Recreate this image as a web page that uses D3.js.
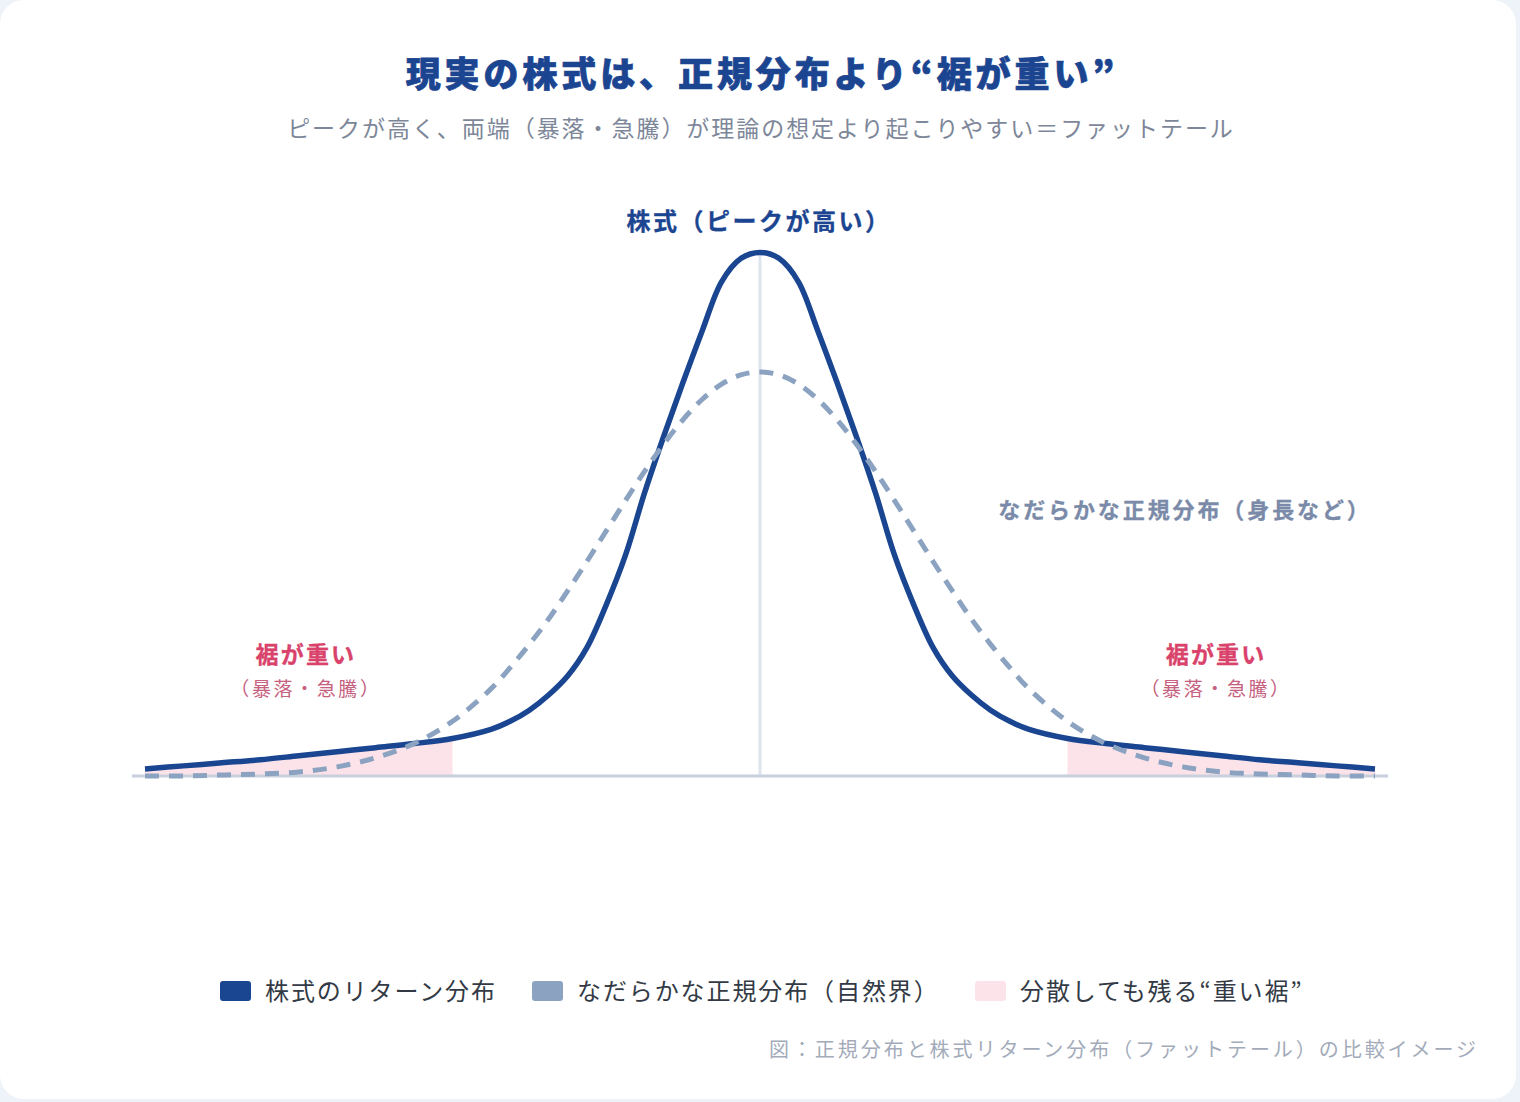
<!DOCTYPE html>
<html>
<head>
<meta charset="utf-8">
<script src="https://cdn.jsdelivr.net/npm/d3@7"></script>
<style>
  html, body { margin: 0; padding: 0; background: #eef3f9; }
  svg { display: block; font-family: "Noto Sans CJK JP", "Noto Sans", sans-serif; }
</style>
</head>
<body>
<div id="chart"></div>
<script>
// x positions (in standard deviations) where the curves were read
var xs = [-4, -3.75, -3.5, -3.25, -3, -2.75, -2.5, -2.25, -2,
  -1.75, -1.625, -1.5, -1.375, -1.25, -1.125, -1, -0.875, -0.75, -0.625, -0.5, -0.375, -0.25, -0.125,
  0,
  0.125, 0.25, 0.375, 0.5, 0.625, 0.75, 0.875, 1, 1.125, 1.25, 1.375, 1.5, 1.625, 1.75,
  2, 2.25, 2.5, 2.75, 3, 3.25, 3.5, 3.75, 4];

// stock return distribution (peaked, fat tails)
var stockValues = [0.007, 0.010, 0.013, 0.016, 0.020, 0.024, 0.028, 0.032, 0.037,
  0.046, 0.054, 0.065, 0.080, 0.099, 0.127, 0.169, 0.218, 0.280, 0.336, 0.389, 0.440, 0.488, 0.511,
  0.517,
  0.511, 0.488, 0.440, 0.389, 0.336, 0.280, 0.218, 0.169, 0.127, 0.099, 0.080, 0.065, 0.054, 0.046,
  0.037, 0.032, 0.028, 0.024, 0.020, 0.016, 0.013, 0.010, 0.007];

// smooth normal distribution (dashed)
var normalValues = [0.000, 0.000, 0.001, 0.002, 0.004, 0.009, 0.018, 0.032, 0.054,
  0.086, 0.107, 0.130, 0.155, 0.183, 0.212, 0.242, 0.272, 0.301, 0.328, 0.352, 0.372, 0.387, 0.396,
  0.399,
  0.396, 0.387, 0.372, 0.352, 0.328, 0.301, 0.272, 0.242, 0.212, 0.183, 0.155, 0.130, 0.107, 0.086,
  0.054, 0.032, 0.018, 0.009, 0.004, 0.002, 0.001, 0.000, 0.000];

// where the heavy tails start
var tailCut = 2;

var titleText = "現実の株式は、正規分布より“裾が重い”";
var subtitleText = "ピークが高く、両端（暴落・急騰）が理論の想定より起こりやすい＝ファットテール";
var legendLabels = ["株式のリターン分布", "なだらかな正規分布（自然界）", "分散しても残る“重い裾”"];
var captionText = "図：正規分布と株式リターン分布（ファットテール）の比較イメージ";

var svgWidth = 1520;
var svgHeight = 1102;

var stockColor = "#1a4590";
var normalColor = "#8ba3c1";
var tailColor = "#fce3e9";

var svg = d3.select("#chart")
  .append("svg")
  .attr("width", svgWidth)
  .attr("height", svgHeight);

// background + card
svg.append("rect")
  .attr("width", svgWidth)
  .attr("height", svgHeight)
  .attr("fill", "#eef3f9");

svg.append("rect")
  .attr("x", 0)
  .attr("y", 0)
  .attr("width", 1516)
  .attr("height", 1099)
  .attr("rx", 24)
  .attr("fill", "#ffffff");

var data = xs.map(function(x, i) {
  return { x: x, stock: stockValues[i], normal: normalValues[i] };
});

// scales
var xScale = d3.scaleLinear()
  .domain([-4, 4])
  .range([145, 1375]);

var yScale = d3.scaleLinear()
  .domain([0, 0.55])
  .range([776, 219]);

var smooth = d3.curveCatmullRom.alpha(0.5);

// heavy tail areas
var tailArea = d3.area()
  .x(d => xScale(d.x))
  .y0(yScale(0))
  .y1(d => yScale(d.stock))
  .curve(smooth);

svg.append("path")
  .datum(data.filter(d => d.x <= -tailCut))
  .attr("d", tailArea)
  .attr("fill", tailColor);

svg.append("path")
  .datum(data.filter(d => d.x >= tailCut))
  .attr("d", tailArea)
  .attr("fill", tailColor);

// center line
svg.append("line")
  .attr("x1", xScale(0))
  .attr("x2", xScale(0))
  .attr("y1", yScale(d3.max(stockValues)))
  .attr("y2", yScale(0))
  .attr("stroke", "#dfe5ef")
  .attr("stroke-width", 3);

// baseline
svg.append("line")
  .attr("x1", xScale.range()[0] - 13)
  .attr("x2", xScale.range()[1] + 13)
  .attr("y1", yScale(0))
  .attr("y2", yScale(0))
  .attr("stroke", "#c7d0dc")
  .attr("stroke-width", 3);

// stock curve
var stockLine = d3.line()
  .x(d => xScale(d.x))
  .y(d => yScale(d.stock))
  .curve(smooth);

svg.append("path")
  .datum(data)
  .attr("d", stockLine)
  .attr("fill", "none")
  .attr("stroke", stockColor)
  .attr("stroke-width", 5.5)
  .attr("stroke-linejoin", "round");

// normal curve
var normalLine = d3.line()
  .x(d => xScale(d.x))
  .y(d => yScale(d.normal))
  .curve(smooth);

svg.append("path")
  .datum(data)
  .attr("d", normalLine)
  .attr("fill", "none")
  .attr("stroke", normalColor)
  .attr("stroke-width", 5)
  .attr("stroke-dasharray", "14 10");

// title + subtitle
svg.append("text")
  .attr("x", 762)
  .attr("y", 87)
  .attr("text-anchor", "middle")
  .attr("font-size", 35)
  .attr("font-weight", 900)
  .attr("letter-spacing", 3.9)
  .attr("fill", "#1b4591")
  .attr("stroke", "#1b4591")
  .attr("stroke-width", 0.7)
  .text(titleText);

svg.append("text")
  .attr("x", 761)
  .attr("y", 137)
  .attr("text-anchor", "middle")
  .attr("font-size", 23)
  .attr("letter-spacing", 1.95)
  .attr("fill", "#7d8799")
  .text(subtitleText);

// annotations
svg.append("text")
  .attr("x", 759)
  .attr("y", 230)
  .attr("text-anchor", "middle")
  .attr("font-size", 24)
  .attr("font-weight", 700)
  .attr("letter-spacing", 2.5)
  .attr("fill", "#1b4591")
  .attr("stroke", "#1b4591")
  .attr("stroke-width", 0.3)
  .text("株式（ピークが高い）");

svg.append("text")
  .attr("x", 1185)
  .attr("y", 518)
  .attr("text-anchor", "middle")
  .attr("font-size", 22)
  .attr("font-weight", 700)
  .attr("letter-spacing", 2.9)
  .attr("fill", "#7a8aa8")
  .attr("stroke", "#7a8aa8")
  .attr("stroke-width", 0.3)
  .text("なだらかな正規分布（身長など）");

[xScale(-2.96), xScale(2.96)].forEach(function(cx) {
  svg.append("text")
    .attr("x", cx + 1)
    .attr("y", 663)
    .attr("text-anchor", "middle")
    .attr("font-size", 23)
    .attr("font-weight", 700)
    .attr("letter-spacing", 2.2)
    .attr("fill", "#d9436b")
    .attr("stroke", "#d9436b")
    .attr("stroke-width", 0.3)
    .text("裾が重い");
  svg.append("text")
    .attr("x", cx + 1)
    .attr("y", 696)
    .attr("text-anchor", "middle")
    .attr("font-size", 19)
    .attr("letter-spacing", 2.6)
    .attr("fill", "#c5607e")
    .text("（暴落・急騰）");
});

// legend
var legendColors = [stockColor, normalColor, tailColor];
var legendX = [220, 532, 975];

legendLabels.forEach(function(label, i) {
  var g = svg.append("g")
    .attr("transform", `translate(${legendX[i]}, 991)`);
  g.append("rect")
    .attr("x", 0)
    .attr("y", -10)
    .attr("width", 31)
    .attr("height", 20)
    .attr("rx", 3)
    .attr("fill", legendColors[i]);
  g.append("text")
    .attr("x", 45)
    .attr("y", 8.5)
    .attr("font-size", 24)
    .attr("letter-spacing", 1.9)
    .attr("fill", "#333a45")
    .text(label);
});

// caption
svg.append("text")
  .attr("x", 1479)
  .attr("y", 1057)
  .attr("text-anchor", "end")
  .attr("font-size", 20)
  .attr("letter-spacing", 2.95)
  .attr("fill", "#a3abba")
  .text(captionText);
</script>
</body>
</html>
